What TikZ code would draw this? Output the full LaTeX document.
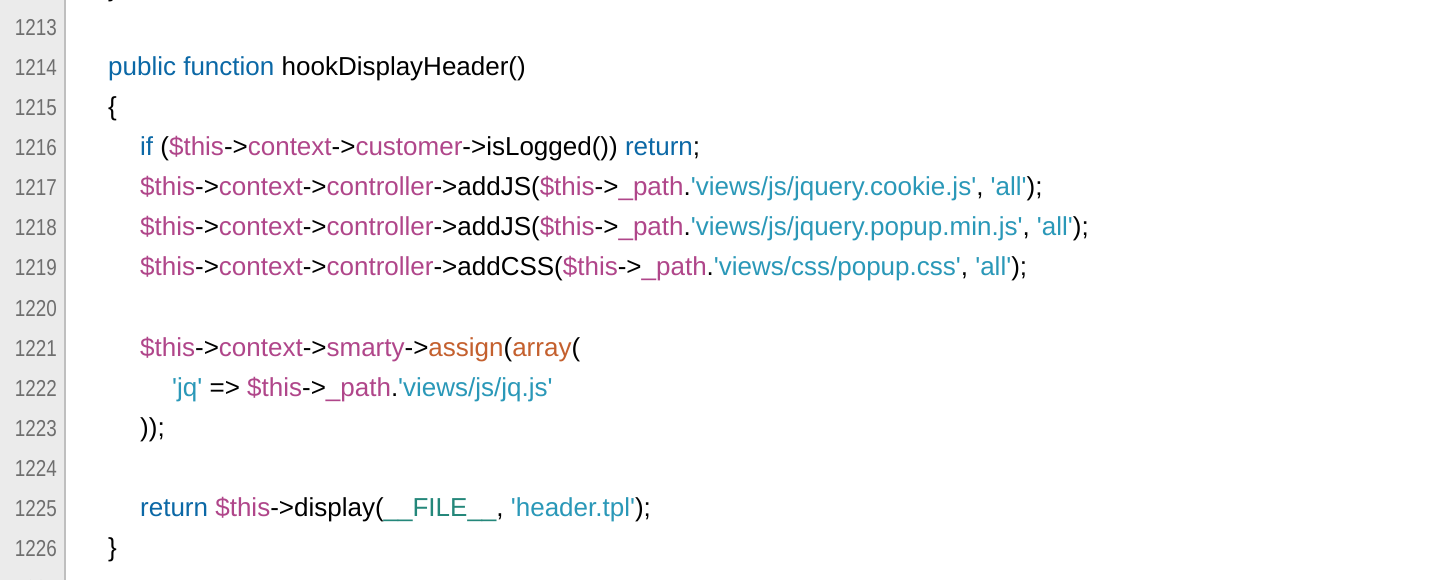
\documentclass[tikz,border=0pt]{standalone}
\usepackage{fontspec}
\setmainfont{Liberation Sans}[Ligatures=TeXOff]
\definecolor{kw}{HTML}{0B68A6}
\definecolor{vr}{HTML}{B0468A}
\definecolor{st}{HTML}{2A98B8}
\definecolor{fn}{HTML}{C4602E}
\definecolor{cn}{HTML}{24877A}
\definecolor{gut}{HTML}{EBEBEB}
\definecolor{num}{HTML}{6E6E6E}
\newcommand{\K}[1]{\textcolor{kw}{#1}}
\newcommand{\V}[1]{\textcolor{vr}{#1}}
\newcommand{\Sq}[1]{\textcolor{st}{'#1'}}
\newcommand{\F}[1]{\textcolor{fn}{#1}}
\newcommand{\C}[1]{\textcolor{cn}{#1}}
\begin{document}
\begin{tikzpicture}[x=1pt,y=-1pt,
  code/.style={anchor=base west,inner sep=0pt,font=\fontsize{26}{26}\selectfont},
  ln/.style={anchor=base east,inner sep=0pt,text=num,xscale=0.82,font=\fontsize{23}{23}\selectfont}]
\useasboundingbox (0,0) rectangle (1446,580);
\clip (0,0) rectangle (1446,580);
\fill[white] (0,0) rectangle (1446,580);
\fill[gut] (0,0) rectangle (64,580);
\draw[line width=1.5pt,color=black!25] (65,0) -- (65,580);
\foreach \n [count=\i from 0] in {1213,...,1227}
  \node[ln] (n\n) at (57,{36+40*\i}) {\n};
\node[code] (l0) at (108,-3) {\}};
\node[code] (l1214) at (108,76) {\K{public function} hookDisplayHeader()};
\node[code] (l1215) at (108,116) {\{};
\node[code] (l1216) at (140,156) {\K{if} (\V{\$this}->\V{context}->\V{customer}->isLogged()) \K{return};};
\node[code] (l1217) at (140,196) {\V{\$this}->\V{context}->\V{controller}->addJS(\V{\$this}->\V{\_path}.\Sq{views/js/jquery.cookie.js}, \Sq{all});};
\node[code] (l1218) at (140,236) {\V{\$this}->\V{context}->\V{controller}->addJS(\V{\$this}->\V{\_path}.\Sq{views/js/jquery.popup.min.js}, \Sq{all});};
\node[code] (l1219) at (140,276) {\V{\$this}->\V{context}->\V{controller}->addCSS(\V{\$this}->\V{\_path}.\Sq{views/css/popup.css}, \Sq{all});};
\node[code] (l1221) at (140,356) {\V{\$this}->\V{context}->\V{smarty}->\F{assign}(\F{array}(};
\node[code] (l1222) at (172,396) {\Sq{jq} => \V{\$this}->\V{\_path}.\Sq{views/js/jq.js}};
\node[code] (l1223) at (140,436) {));};
\node[code] (l1225) at (140,516) {\K{return} \V{\$this}->display(\C{\_\_FILE\_\_}, \Sq{header.tpl});};
\node[code] (l1226) at (108,556) {\}};
\end{tikzpicture}
\end{document}
